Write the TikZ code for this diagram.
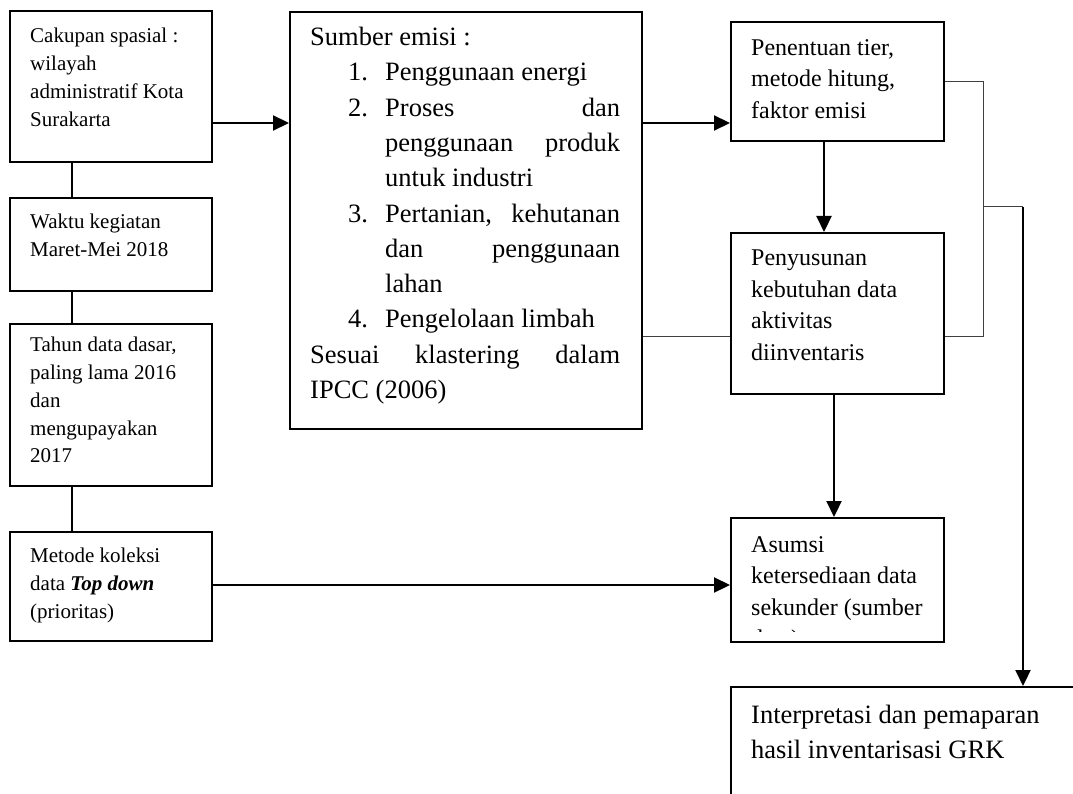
\documentclass[tikz,border=0pt]{standalone}
\usepackage{fontspec}
\setmainfont{Liberation Serif}
\usetikzlibrary{arrows.meta}

\newcommand{\kecil}{\fontsize{21}{27.8}\selectfont}
\newcommand{\sedang}{\fontsize{24}{31.5}\selectfont}
\newcommand{\besar}{\fontsize{26.5}{35.3}\selectfont}
\newcommand{\butir}[2]{\hspace*{38pt}\makebox[37pt][l]{#1}#2}
\newcommand{\rata}[1]{\hbox to 235pt{#1}}

\tikzset{
  kotak/.style={draw, line width=2pt, inner sep=0pt, anchor=north west},
  isi/.style={inner sep=0pt, anchor=north west, align=left},
  garis/.style={line width=2pt},
  tipis/.style={line width=1pt, draw=black!75},
  panah/.style={line width=2.2pt, -{Triangle[length=16pt,width=15pt]}}
}

\begin{document}
\begin{tikzpicture}[x=1pt, y=-1pt]
  \useasboundingbox (0,0) rectangle (1073,794);
  \clip (0,0) rectangle (1073,794);

  \node[kotak, minimum width=202, minimum height=151] (cakupan) at (9,10) {};
  \node[kotak, minimum width=202, minimum height=93] (waktu) at (9,197) {};
  \node[kotak, minimum width=202, minimum height=162] (tahun) at (9,323) {};
  \node[kotak, minimum width=202, minimum height=109] (metode) at (9,531) {};
  \node[kotak, minimum width=352, minimum height=417] (sumber) at (289,11) {};
  \node[kotak, minimum width=213, minimum height=119] (penentuan) at (730,21) {};
  \node[kotak, minimum width=213, minimum height=161] (penyusunan) at (730,232) {};
  \node[kotak, minimum width=213, minimum height=124] (asumsi) at (730,517) {};
  \node[kotak, minimum width=380, minimum height=140] (interpretasi) at (730,686) {};

  \node[isi, font=\kecil] (tcakupan) at (30,28) {Cakupan spasial :\\wilayah\\administratif Kota\\Surakarta};
  \node[isi, font=\kecil] (twaktu) at (30,214) {Waktu kegiatan\\Maret-Mei 2018};
  \node[isi, font=\kecil] (ttahun) at (30,337) {Tahun data dasar,\\paling lama 2016\\dan\\mengupayakan\\2017};
  \node[isi, font=\kecil] (tmetode) at (30,548) {Metode koleksi\\data \textbf{\textit{Top down}}\\(prioritas)};
  \node[isi, font=\besar] (tsumber) at (310,27) {Sumber emisi :\\
    \butir{1.}{Penggunaan energi}\\
    \butir{2.}{\rata{Proses\hfill dan}}\\
    \butir{}{\rata{penggunaan\hfill produk}}\\
    \butir{}{untuk industri}\\
    \butir{3.}{\rata{Pertanian,\hfill kehutanan}}\\
    \butir{}{\rata{dan\hfill penggunaan}}\\
    \butir{}{lahan}\\
    \butir{4.}{Pengelolaan limbah}\\
    \hbox to 310pt{Sesuai\hfill klastering\hfill dalam}\\
    IPCC (2006)};
  \node[isi, font=\sedang] (tpenentuan) at (751,39) {Penentuan tier,\\metode hitung,\\faktor emisi};
  \node[isi, font=\sedang] (tpenyusunan) at (751,250) {Penyusunan\\kebutuhan data\\aktivitas\\diinventaris};
  \begin{scope}
    \clip (730,517) rectangle (943,631);
    \node[isi, font=\sedang] (tasumsi) at (751,536) {Asumsi\\ketersediaan data\\sekunder (sumber\\data)};
  \end{scope}
  \node[isi, font=\besar] (tinterpretasi) at (751,705) {Interpretasi dan pemaparan\\hasil inventarisasi GRK};

  \draw[garis] ([xshift=-39]cakupan.south) -- ([xshift=-39]waktu.north);
  \draw[garis] ([xshift=-39]waktu.south) -- ([xshift=-39]tahun.north);
  \draw[garis] ([xshift=-39]tahun.south) -- ([xshift=-39]metode.north);
  \draw[panah] ([yshift=-113]cakupan.north east) -- ([yshift=-112]sumber.north west);
  \draw[panah] ([yshift=-112]sumber.north east) -- ([yshift=-102]penentuan.north west);
  \draw[panah] ([xshift=-13.5]penentuan.south) -- ([xshift=-13.5]penyusunan.north);
  \draw[panah] ([xshift=-3.5]penyusunan.south) -- ([xshift=-3.5]asumsi.north);
  \draw[panah] ([yshift=-54]metode.north east) -- ([yshift=-68]asumsi.north west);
  \draw[tipis] ([yshift=-325]sumber.north east) -- ([yshift=-104]penyusunan.north west);
  \coordinate (siku) at (983,336);
  \coordinate (cabang) at (983,207);
  \coordinate (belok) at (1023,207);
  \draw[tipis] ([yshift=-61]penentuan.north east) -| (siku) -- ([yshift=-104]penyusunan.north east);
  \draw[tipis] (cabang) -- (belok);
  \draw[panah] (belok) -- (belok |- interpretasi.north);
\end{tikzpicture}
\end{document}
